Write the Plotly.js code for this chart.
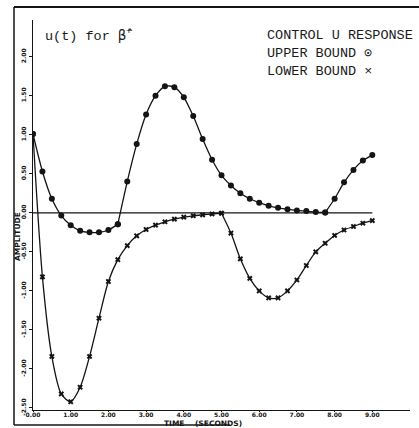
<!DOCTYPE html>
<html>
<head>
<meta charset="utf-8">
<script src="https://cdn.plot.ly/plotly-3.0.1.min.js"></script>
<style>
  html, body { margin: 0; padding: 0; background: #fff; }
  #chart { width: 419px; height: 428px; }
</style>
</head>
<body>
<div id="chart"></div>
<script>
// Sample times (seconds)
const timeSec = [0, 0.25, 0.5, 0.75, 1, 1.25, 1.5, 1.75, 2, 2.25, 2.5, 2.75, 3, 3.25, 3.5, 3.75,
                 4, 4.25, 4.5, 4.75, 5, 5.25, 5.5, 5.75, 6, 6.25, 6.5, 6.75, 7, 7.25, 7.5, 7.75,
                 8, 8.25, 8.5, 8.75, 9];

// Control u(t): upper bound (circles)
const upperBound = [1.01, 0.53, 0.18, -0.035, -0.16, -0.23, -0.25, -0.25, -0.22, -0.145,
                    0.40, 0.88, 1.26, 1.50, 1.62, 1.61, 1.48, 1.24, 0.945, 0.68,
                    0.48, 0.35, 0.25, 0.18, 0.13, 0.09, 0.064, 0.047, 0.03, 0.022,
                    0.01, 0.004, 0.18, 0.39, 0.55, 0.67, 0.74];

// Control u(t): lower bound (crosses)
const lowerBound = [1.01, -0.82, -1.84, -2.32, -2.42, -2.235, -1.84, -1.35, -0.88, -0.60,
                    -0.42, -0.295, -0.214, -0.158, -0.115, -0.081, -0.055, -0.038, -0.026, -0.015,
                    -0.005, -0.26, -0.59, -0.84, -1.00, -1.09, -1.09, -1.00, -0.86, -0.675,
                    -0.50, -0.39, -0.29, -0.22, -0.175, -0.133, -0.10];

// Switching points: each smooth piece runs between these sample indices
const upperPieces = [[0, 9], [9, 31], [31, 36]];
const lowerPieces = [[0, 20], [20, 36]];

const xTickVals = [0, 1, 2, 3, 4, 5, 6, 7, 8, 9];
const xTickText = ["0.00", "1.00", "2.00", "3.00", "4.00", "5.00", "6.00", "7.00", "8.00", "9.00"];
const yTickVals = [2, 1.5, 1, 0.5, 0, -0.5, -1, -1.5, -2, -2.5];
const yTickText = ["2.00", "1.50", "1.00", "0.50", "0.00", "-0.50", "-1.00", "-1.50", "-2.00", "-2.50"];

const INK = '#141414';
const W = 419, H = 428;
const M = { l: 33, r: 9, t: 20, b: 18 };
const plotW = W - M.l - M.r, plotH = H - M.t - M.b;
const px = v => (v - M.l) / plotW;          // page x -> paper x
const py = v => (H - M.b - v) / plotH;      // page y -> paper y

function pieces(ys, ranges, symbol, size) {
  return ranges.map(([a, b]) => ({
    x: timeSec.slice(a, b + 1),
    y: ys.slice(a, b + 1),
    type: 'scatter',
    mode: 'lines+markers',
    line: { color: INK, width: 1.3, shape: 'spline', smoothing: 0.8 },
    marker: { symbol: symbol, size: size, color: INK, line: { width: 0 } },
    hoverinfo: 'x+y',
    showlegend: false
  }));
}

const traces = [
  ...pieces(upperBound, upperPieces, 'circle', 6),
  ...pieces(lowerBound, lowerPieces, 'x', 5)
];

const mono = { family: 'Liberation Mono, Courier New, monospace', size: 13.5, color: '#1a1a1a' };
const tiny = { family: 'DejaVu Sans, sans-serif', size: 6, color: INK, weight: 'bold' };
const label = { family: 'DejaVu Sans, sans-serif', size: 7.5, color: INK, weight: 'bold' };

const layout = {
  width: W, height: H,
  margin: M,
  paper_bgcolor: '#fff', plot_bgcolor: '#fff',
  showlegend: false,
  xaxis: {
    range: [0, 10], tickvals: xTickVals, ticktext: xTickText,
    showgrid: false, zeroline: false, showline: true, linecolor: INK, linewidth: 1.3,
    ticks: 'outside', ticklen: 1, tickcolor: INK, tickfont: tiny, ticklabelstandoff: -3,
    fixedrange: true
  },
  yaxis: {
    range: [-2.526, 2.47], tickvals: yTickVals, ticktext: yTickText, tickangle: -90,
    showgrid: false, zeroline: false, showline: true, linecolor: INK, linewidth: 1.3,
    ticks: 'outside', ticklen: 3, tickcolor: INK, tickfont: tiny, fixedrange: true
  },
  shapes: [
    // zero reference line
    { type: 'line', xref: 'x', yref: 'y', x0: 0, x1: 9, y0: 0, y1: 0, line: { color: INK, width: 1.3 } },
    // figure frame
    { type: 'line', xref: 'paper', yref: 'paper', x0: px(14), x1: px(419), y0: py(7), y1: py(7), line: { color: INK, width: 2 } },
    { type: 'line', xref: 'paper', yref: 'paper', x0: px(14), x1: px(14), y0: py(7), y1: py(425), line: { color: INK, width: 1.5 } },
    { type: 'line', xref: 'paper', yref: 'paper', x0: px(14), x1: px(230), y0: py(425), y1: py(425), line: { color: INK, width: 1.5 } }
  ],
  annotations: [
    { xref: 'paper', yref: 'paper', x: px(43), y: py(35), xanchor: 'left', yanchor: 'middle',
      text: 'u(t) for <span style="font-family:DejaVu Sans Mono">\u03B2\u0302</span><sup>+</sup>',
      showarrow: false, font: mono },
    { xref: 'paper', yref: 'paper', x: px(265), y: py(36), xanchor: 'left', yanchor: 'middle',
      text: 'CONTROL U RESPONSE', showarrow: false, font: mono },
    { xref: 'paper', yref: 'paper', x: px(265), y: py(53), xanchor: 'left', yanchor: 'middle',
      text: 'UPPER BOUND \u2299', showarrow: false, font: mono },
    { xref: 'paper', yref: 'paper', x: px(265), y: py(71), xanchor: 'left', yanchor: 'middle',
      text: 'LOWER BOUND \u00D7', showarrow: false, font: mono },
    { xref: 'paper', yref: 'paper', x: px(17), y: py(237), xanchor: 'center', yanchor: 'middle',
      text: 'AMPLITUDE', textangle: -90, showarrow: false, font: label },
    { xref: 'paper', yref: 'paper', x: px(203), y: py(423), xanchor: 'center', yanchor: 'middle',
      text: 'TIME    (SECONDS)', showarrow: false, font: label }
  ]
};

Plotly.newPlot('chart', traces, layout, { staticPlot: true, displayModeBar: false });
</script>
</body>
</html>
